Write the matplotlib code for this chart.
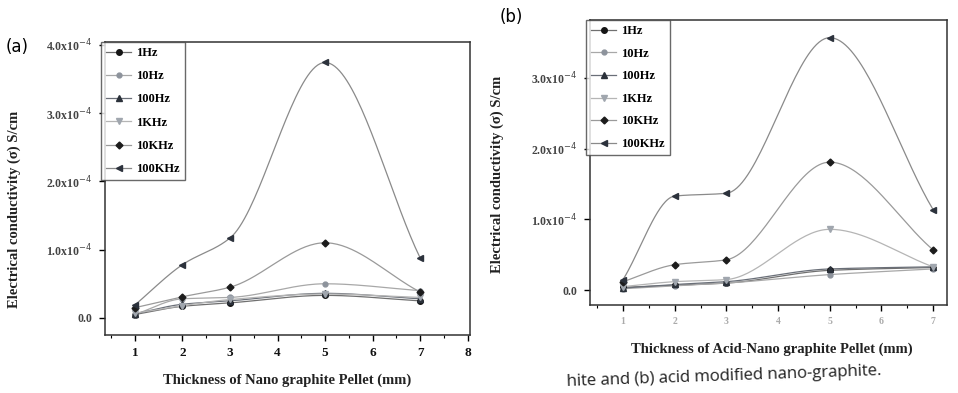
import numpy as np
import matplotlib.pyplot as plt
from matplotlib.ticker import FixedLocator, MultipleLocator

# thickness (mm)
thick_a = [1, 2, 3, 5, 7]
thick_b = [1, 2, 3, 5, 7]

freqs = ["1Hz", "10Hz", "100Hz", "1KHz", "10KHz", "100KHz"]

# (a) nano-graphite, conductivity in units of 1.0x10^-4 S/cm
a_1hz = [0.05, 0.17, 0.22, 0.33, 0.25]
a_10hz = [0.05, 0.28, 0.30, 0.50, 0.40]
a_100hz = [0.06, 0.20, 0.25, 0.36, 0.28]
a_1khz = [0.07, 0.18, 0.27, 0.35, 0.30]
a_10khz = [0.15, 0.31, 0.45, 1.10, 0.38]
a_100khz = [0.19, 0.78, 1.17, 3.74, 0.88]

# (b) acid modified nano-graphite
b_1hz = [0.04, 0.07, 0.10, 0.28, 0.32]
b_10hz = [0.02, 0.06, 0.10, 0.22, 0.30]
b_100hz = [0.03, 0.08, 0.12, 0.30, 0.33]
b_1khz = [0.05, 0.12, 0.15, 0.86, 0.33]
b_10khz = [0.12, 0.36, 0.43, 1.81, 0.57]
b_100khz = [0.15, 1.33, 1.37, 3.57, 1.14]

markers = ["o", "o", "^", "v", "D", "<"]
msizes = [4, 3.5, 4, 4, 3.5, 4]
mcolors = ["#151515", "#8d939c", "#2b313a", "#a0a6ae", "#1c1c1c", "#2c323c"]
lcolors = ["#707070", "#a8a8a8", "#6a6f78", "#b5b5b5", "#9a9a9a", "#8a8a8a"]


def smooth(x, y, n=40):
    # monotone cubic (Fritsch-Carlson) through the points, only for drawing the line
    x = np.asarray(x, float)
    y = np.asarray(y, float)
    h = np.diff(x)
    d = np.diff(y) / h
    m = np.zeros_like(y)
    m[0], m[-1] = d[0], d[-1]
    for k in range(1, len(x) - 1):
        if d[k - 1] * d[k] > 0:
            w1 = 2 * h[k] + h[k - 1]
            w2 = h[k] + 2 * h[k - 1]
            m[k] = (w1 + w2) / (w1 / d[k - 1] + w2 / d[k])
    xs, ys = [], []
    for k in range(len(x) - 1):
        t = np.linspace(0, 1, n)
        h00 = 2 * t ** 3 - 3 * t ** 2 + 1
        h10 = t ** 3 - 2 * t ** 2 + t
        h01 = -2 * t ** 3 + 3 * t ** 2
        h11 = t ** 3 - t ** 2
        xs.extend(x[k] + t * h[k])
        ys.extend(h00 * y[k] + h10 * h[k] * m[k] + h01 * y[k + 1] + h11 * h[k] * m[k + 1])
    return xs, ys


plt.rcParams["font.family"] = ["Liberation Serif", "DejaVu Serif"]
W, H = 958, 393
fig = plt.figure(figsize=(W / 100, H / 100), dpi=100)


def panel(box, x, series, xlim, ylim, yticks, ylabels, xlabel, tag, tagpos,
          leg_h, ylab_xy, xlab_xy, xtick_color, xtick_size):
    l, r, t, b = box
    ax = fig.add_axes([l / W, 1 - b / H, (r - l) / W, (b - t) / H])
    for i, ys in enumerate(series):
        sx, sy = smooth(x, ys)
        ax.plot(sx, sy, color=lcolors[i], lw=0.9, zorder=2)
        ax.plot(x, ys, ls="none", marker=markers[i], ms=msizes[i],
                color=mcolors[i], zorder=3)
    ax.set_xlim(*xlim)
    ax.set_ylim(*ylim)
    ax.yaxis.set_major_locator(FixedLocator(yticks))
    ax.set_yticklabels(ylabels, fontsize=8.5, fontweight="bold", color="#444444")
    ax.xaxis.set_major_locator(MultipleLocator(1))
    ax.xaxis.set_minor_locator(MultipleLocator(0.5))
    for lab in ax.get_xticklabels():
        lab.set_fontsize(xtick_size)
        lab.set_fontweight("bold")
        lab.set_color(xtick_color)
    ax.tick_params(direction="out", length=4, width=1, pad=5)
    ax.tick_params(which="minor", direction="out", length=2.5, width=0.8)
    for s in ax.spines.values():
        s.set_linewidth(1.1)
        s.set_color("#333333")
    ax.set_xlabel(xlabel, fontsize=10.5, fontweight="bold", color="#222222")
    ax.xaxis.set_label_coords(*xlab_xy)
    ax.set_ylabel("Electrical conductivity (σ) S/cm", fontsize=10.5,
                  fontweight="bold", color="#222222")
    ax.yaxis.set_label_coords(*ylab_xy)
    handles = []
    for i in range(6):
        h, = ax.plot([], [], color=lcolors[i], lw=0.9, marker=markers[i],
                     ms=msizes[i], mfc=mcolors[i], mec=mcolors[i])
        handles.append(h)
    leg = ax.legend(handles, freqs, loc="upper left", bbox_to_anchor=(-0.01, 1.0),
                    frameon=True, fancybox=False, edgecolor="#444444",
                    prop={"size": 9, "weight": "bold"}, labelspacing=leg_h,
                    handlelength=2.0, handletextpad=0.4, borderpad=0.4,
                    borderaxespad=0.0)
    leg.get_frame().set_linewidth(1.0)
    fig.text(tagpos[0] / W, 1 - tagpos[1] / H, tag, fontsize=12,
             family="DejaVu Sans", va="center")
    return ax


panel((105, 470, 42, 335), thick_a,
      [a_1hz, a_10hz, a_100hz, a_1khz, a_10khz, a_100khz],
      (0.37, 8.05), (-0.25, 4.04), [0, 1, 2, 3, 4],
      ["0.0", "1.0x10$^{-4}$", "2.0x10$^{-4}$", "3.0x10$^{-4}$", "4.0x10$^{-4}$"],
      "Thickness of Nano graphite Pellet (mm)", "(a)", (6, 47), 0.9,
      (-0.23, 0.43), (0.5, -0.13), "#111111", 9.5)

panel((590, 947, 20, 305), thick_b,
      [b_1hz, b_10hz, b_100hz, b_1khz, b_10khz, b_100khz],
      (0.36, 7.27), (-0.21, 3.82), [0, 1, 2, 3],
      ["0.0", "1.0x10$^{-4}$", "2.0x10$^{-4}$", "3.0x10$^{-4}$"],
      "Thickness of Acid-Nano graphite Pellet (mm)", "(b)", (500, 17), 0.85,
      (-0.24, 0.46), (0.51, -0.13), "#aaaaaa", 7)

fig.text(566 / W, 1 - 377 / H, "hite and (b) acid modified nano-graphite.",
         fontsize=12, family="Open Sans", va="center", rotation=2,
         color="#222222")

fig.savefig("out.png", dpi=100)
